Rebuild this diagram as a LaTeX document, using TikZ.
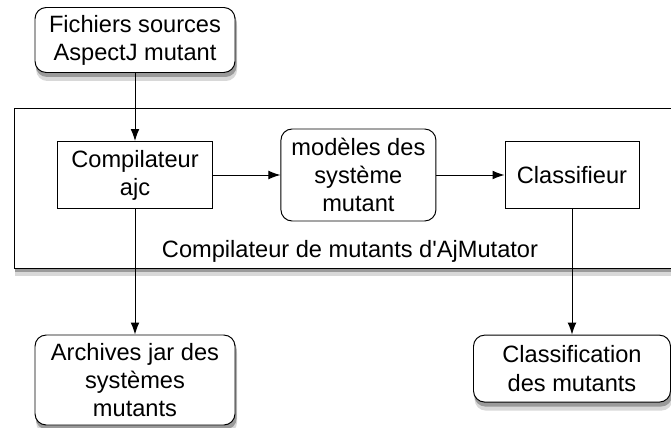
\documentclass[tikz,border=0pt]{standalone}
\usepackage{fontspec}
\setmainfont{Liberation Sans}
\usepackage{tikz}
\usetikzlibrary{arrows.meta,backgrounds}
\definecolor{ombre1}{HTML}{D8D8D8}
\definecolor{ombre2}{HTML}{9A9A9A}
\tikzset{%
    >={Latex[length=3mm,width=2.2mm]},
    boite/.style={draw,fill=white,line width=0.7pt,align=center,inner sep=0pt},
    fleche/.style={->,line width=0.7pt}
}

\begin{document}
\begin{tikzpicture}[font=\fontsize{16.8}{20}\selectfont]
      \useasboundingbox (0,0) rectangle (16.775,10.675);

      % cadre du compilateur
      \node[boite,minimum width=16.55cm,minimum height=4cm] (cadre) at (8.625,5.975) {};
      \node (titre) at (8.75,4.4) {Compilateur de mutants d\textquotesingle AjMutator};

      \node[boite,rounded corners=8pt,minimum width=5cm,minimum height=1.625cm] (fichiers) at (3.375,9.675) {Fichiers sources\\AspectJ mutant};
      \node[boite,minimum width=3.875cm,minimum height=1.675cm] (compilo) at (3.375,6.3) {Compilateur\\ajc};
      \node[boite,rounded corners=8pt,minimum width=3.875cm,minimum height=2.3cm] (modeles) at (8.96,6.3) {modèles des\\système\\mutant};
      \node[boite,minimum width=3.35cm,minimum height=1.675cm] (classifieur) at (14.3,6.3) {Classifieur};
      \node[boite,rounded corners=8pt,minimum width=5cm,minimum height=2.25cm] (archives) at (3.375,1.175) {Archives jar des\\systèmes\\mutants};
      \node[boite,rounded corners=8pt,minimum width=4.925cm,minimum height=1.675cm] (classification) at (14.3,1.46) {Classification\\des mutants};

      \draw[fleche] (fichiers) -- (compilo);
      \draw[fleche] (compilo) -- (modeles);
      \draw[fleche] (modeles) -- (classifieur);
      \draw[fleche] (compilo) -- (archives);
      \draw[fleche] (classifieur) -- (classification);

      % ombres
      \begin{pgfonlayer}{background}
        \foreach \n/\r in {cadre/0pt,fichiers/8pt,archives/8pt,classification/8pt} {
          \fill[ombre1,rounded corners=\r] ([shift={(0.04,-0.2)}]\n.south west) rectangle ([shift={(0.04,-0.2)}]\n.north east);
          \fill[ombre2,rounded corners=\r] ([shift={(0.03,-0.1)}]\n.south west) rectangle ([shift={(0.03,-0.1)}]\n.north east);
        }
      \end{pgfonlayer}
    \end{tikzpicture}
\end{document}
